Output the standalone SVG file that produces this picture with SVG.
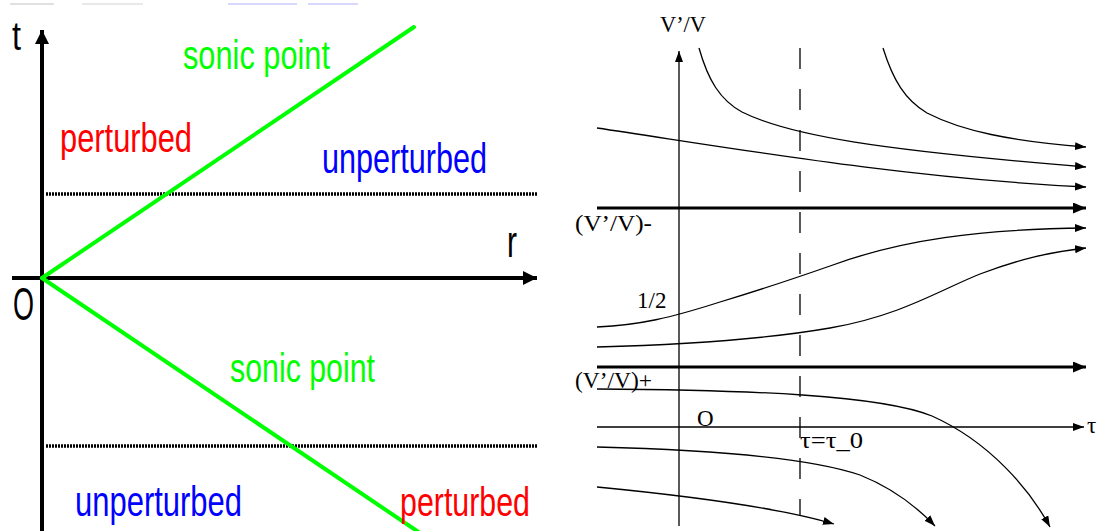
<svg xmlns="http://www.w3.org/2000/svg" width="1100" height="531" viewBox="0 0 1100 531">
<style>
.ax{stroke:#000;stroke-width:4;fill:none}
.sonic{stroke:#00ff00;stroke-width:4;fill:none;stroke-linecap:round}
.dot{stroke:#000;stroke-width:3.5;stroke-dasharray:2 1;fill:none}
.lt{font-family:"Liberation Sans",Arial,sans-serif}
.g{fill:#00ff00}.r{fill:#ff0000}.b{fill:#0000ff}.k{fill:#000}
.thin{stroke:#000;stroke-width:1.3;fill:none}
.thick{stroke:#000;stroke-width:3;fill:none}
.dash{stroke:#000;stroke-width:1.3;stroke-dasharray:21 20;fill:none}
.rt{font-family:"Liberation Serif","Times New Roman",serif;font-size:23px;fill:#000}
.frag{stroke-width:1.5;fill:none;opacity:0.35}
</style>
<defs>
<marker id="aThin" markerUnits="userSpaceOnUse" markerWidth="12" markerHeight="9" refX="11" refY="4" orient="auto"><path d="M0,0 L11,4 L0,8 z" fill="#000"/></marker>
<marker id="aThick" markerUnits="userSpaceOnUse" markerWidth="14" markerHeight="12" refX="13" refY="5.5" orient="auto"><path d="M0,0 L13,5.5 L0,11 z" fill="#000"/></marker>
<marker id="aAx" markerUnits="userSpaceOnUse" markerWidth="15" markerHeight="15" refX="14" refY="7" orient="auto"><path d="M0,0 L14,7 L0,14 z" fill="#000"/></marker>
</defs>
<rect width="1100" height="531" fill="#fff"/>
<g id="top-fragments">
<line class="frag" x1="10" y1="4" x2="54" y2="4" stroke="#888"/>
<line class="frag" x1="82" y1="4" x2="143" y2="4" stroke="#aaa"/>
<line class="frag" x1="228" y1="4" x2="297" y2="4" stroke="#66f"/>
<line class="frag" x1="308" y1="4" x2="358" y2="4" stroke="#66f"/>
</g>
<g id="left-panel">
<g id="left-connectors">
<line class="ax" x1="42" y1="531" x2="42" y2="30" marker-end="url(#aAx)"/>
<line class="ax" x1="12" y1="278" x2="537" y2="278" marker-end="url(#aAx)"/>
<line class="dot" x1="46" y1="194" x2="537" y2="194"/>
<line class="dot" x1="46" y1="446" x2="537" y2="446"/>
<line class="sonic" x1="42" y1="278" x2="414" y2="27"/>
<line class="sonic" x1="42" y1="278" x2="420" y2="533"/>
</g>
<g id="left-labels">
<text class="lt k" x="12" y="50" font-size="40" textLength="9" lengthAdjust="spacingAndGlyphs">t</text>
<text class="lt k" x="13" y="320" font-size="46" textLength="21" lengthAdjust="spacingAndGlyphs">O</text>
<text class="lt k" x="507" y="257" font-size="44" textLength="10" lengthAdjust="spacingAndGlyphs">r</text>
<text class="lt g" x="183" y="69" font-size="40" textLength="147" lengthAdjust="spacingAndGlyphs">sonic point</text>
<text class="lt r" x="60" y="152" font-size="41" textLength="132" lengthAdjust="spacingAndGlyphs">perturbed</text>
<text class="lt b" x="322" y="173" font-size="42" textLength="165" lengthAdjust="spacingAndGlyphs">unperturbed</text>
<text class="lt g" x="230" y="382" font-size="40" textLength="145" lengthAdjust="spacingAndGlyphs">sonic point</text>
<text class="lt b" x="75" y="516" font-size="42" textLength="167" lengthAdjust="spacingAndGlyphs">unperturbed</text>
<text class="lt r" x="400" y="516" font-size="41" textLength="130" lengthAdjust="spacingAndGlyphs">perturbed</text>
</g>
</g>
<g id="right-panel">
<g id="right-connectors">
<line class="thin" x1="679" y1="526" x2="679" y2="51" marker-end="url(#aThin)"/>
<line class="dash" x1="800" y1="48" x2="800" y2="515"/>
<path class="thin" d="M699,48 C708,80 720,100 742,112 C790,136 880,150 1086,167" marker-end="url(#aThin)"/>
<path class="thin" d="M883,48 C893,80 905,100 927,113 C962,131 1010,141 1086,147" marker-end="url(#aThin)"/>
<path class="thin" d="M597,128 C720,146 900,178 1086,187" marker-end="url(#aThin)"/>
<line class="thick" x1="597" y1="208" x2="1086" y2="208" marker-end="url(#aThick)"/>
<path class="thin" d="M597,327 C640,325 670,318 720,302 C760,290 790,280 830,266 C900,240 980,229 1086,228" marker-end="url(#aThin)"/>
<path class="thin" d="M597,347 C680,345 760,340 830,328 C900,316 940,290 980,274 C1020,259 1050,252 1086,248" marker-end="url(#aThin)"/>
<line class="thick" x1="597" y1="367" x2="1086" y2="367" marker-end="url(#aThick)"/>
<path class="thin" d="M597,389 C750,390 880,395 932,416 C990,442 1030,490 1050,527" marker-end="url(#aThin)"/>
<line class="thin" x1="597" y1="427" x2="1084" y2="427" marker-end="url(#aThin)"/>
<path class="thin" d="M597,447 C720,450 810,458 860,475 C890,487 915,505 935,526" marker-end="url(#aThin)"/>
<path class="thin" d="M597,487 C700,497 780,508 834,524" marker-end="url(#aThin)"/>
</g>
<g id="right-labels">
<text class="rt" x="660" y="32" textLength="46" lengthAdjust="spacingAndGlyphs">V’/V</text>
<text class="rt" x="575" y="231" textLength="77" lengthAdjust="spacingAndGlyphs">(V’/V)-</text>
<text class="rt" x="637" y="308">1/2</text>
<text class="rt" x="575" y="388" textLength="77" lengthAdjust="spacingAndGlyphs">(V’/V)+</text>
<text class="rt" x="697" y="426">O</text>
<text class="rt" x="800" y="448" font-size="25" textLength="63" lengthAdjust="spacingAndGlyphs">τ=τ_0</text>
<text class="rt" x="1087" y="433" font-size="34">τ</text>
</g>
</g>
</svg>
